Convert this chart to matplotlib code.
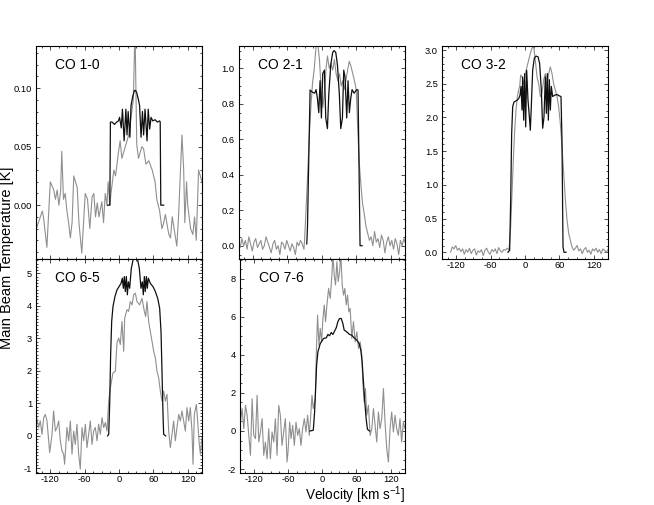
import matplotlib
matplotlib.use("Agg")
import matplotlib.pyplot as plt
from matplotlib.ticker import FixedLocator, MultipleLocator, FormatStrFormatter

plt.rcParams['font.family'] = ['Liberation Sans', 'DejaVu Sans']
plt.rcParams['axes.unicode_minus'] = False
plt.rcParams['mathtext.default'] = 'regular'

# ---------------- data ----------------
labels = ["CO 1-0", "CO 2-1", "CO 3-2", "CO 6-5", "CO 7-6"]
xticks = [-120, -60, 0, 60, 120]

# CO 1-0
v1g = [-145,-134,-132,-126,-120,-114,-111,-108,-105,-102,
       -100,-97,-94,-91,-88,-85,-82,-79,-76,-73,
       -70,-65,-59,-55,-51,-47,-44,-41,-38,-35,
       -33,-30,-27,-24,-21,-19,-16,-14,-9,-6,
       -1,2,5,11,17,21,25,28,31,34,
       40,43,47,52,58,63,66,71,75,78,
       81,87,90,93,101,104,110,113,115,118,
       120,125,129,132,135,139,142,145]
T1g = [-0.021,-0.005,-0.010,-0.036,0.020,0.013,0.005,0.013,0.000,0.012,
       0.046,0.005,0.010,-0.005,-0.015,-0.028,-0.015,0.025,0.020,0.015,
       -0.015,-0.041,0.010,0.005,-0.020,0.007,0.010,-0.010,0.002,-0.010,
       -0.005,0.003,-0.015,0.010,0.000,0.020,0.000,0.010,0.030,0.025,
       0.045,0.055,0.040,0.050,0.060,0.075,0.090,0.150,0.052,0.040,
       0.050,0.048,0.035,0.038,0.030,0.020,0.005,-0.005,-0.020,-0.015,
       -0.008,-0.025,-0.028,-0.010,-0.035,-0.010,0.060,0.030,-0.015,0.020,
       0.000,-0.020,-0.025,-0.010,-0.030,0.030,0.025,0.020]
v1m = [-20,-16,-15,-12,-8,-4,-1,1,4,6,
       9,12,14,16,19,21,24,27,29,31,
       34,36,38.5,41,43,45.5,49,51,53.6,56,
       59,63,67,71,72,73,78]
T1m = [0,0,0.071,0.071,0.069,0.071,0.072,0.075,0.066,0.082,
       0.055,0.082,0.060,0.080,0.058,0.085,0.093,0.098,0.098,0.096,
       0.090,0.085,0.058,0.080,0.060,0.082,0.055,0.082,0.065,0.075,
       0.072,0.073,0.071,0.072,0.071,0.0,0.0]

# CO 2-1
v2g = [-145,-142,-139,-136,-133,-130,-127,-124,-121,-118,
       -115,-112,-109,-106,-103,-100,-97,-94,-91,-88,
       -85,-82,-79,-76,-73,-70,-67,-64,-61,-58,
       -55,-52,-49,-46,-43,-40,-37,-34,-31,
       -30,-28,-25,-22,-19,-16,-13,-10,-7,-4,
       -1,2,5,7.5,10,13,16,19,22,25,
       28,31,34,36.5,39,42,45,48,51,54,
       57,60,62.5,65.5,68.5,71,74,77,80,83,
       86,89,92,95,98,101,104,107,110,113,
       116,119,122,125,128,131,134,137,140,143,145]
T2g = [0.02,-0.01,0.04,0.00,0.03,-0.02,0.05,0.01,-0.03,0.02,
       0.04,-0.01,0.01,0.03,-0.02,0.00,0.05,0.02,-0.01,-0.04,
       0.01,0.03,-0.02,0.00,-0.05,0.02,0.01,-0.02,0.03,0.00,
       -0.03,0.01,-0.01,-0.05,0.02,0.00,0.03,0.01,-0.02,
       0.03,0.16,0.37,0.60,0.78,0.92,1.00,1.12,1.14,1.05,
       0.88,0.78,0.88,1.00,1.07,1.00,1.03,0.99,1.05,0.97,
       0.93,0.97,0.90,0.93,0.88,0.93,0.99,1.04,1.01,0.97,
       0.93,0.88,0.67,0.46,0.33,0.24,0.18,0.11,0.07,0.03,
       0.05,0.00,0.08,0.02,0.04,-0.01,0.06,0.03,-0.04,0.02,
       0.05,0.00,0.03,-0.02,0.04,0.01,-0.05,0.03,0.00,0.04,0.02]
v2m = [-26.1,-24.9,-20.3,-16.2,-12.2,-9.9,-7.5,-5.2,-2.9,-0.6,
       1.7,4.6,7.0,9.9,12.2,15.7,19.1,21.5,24.4,27.3,
       30.7,33.1,36.0,38.3,40.6,43.5,45.8,48.1,50.5,52.8,
       56.3,60.9,63.2,65.5,66.7,70.2]
T2m = [0.01,0.10,0.878,0.865,0.86,0.88,0.83,0.75,0.93,0.72,
       0.97,0.99,0.72,0.66,0.85,1.02,1.09,1.10,1.09,1.02,
       0.85,0.66,0.72,0.99,0.95,0.72,0.93,0.75,0.83,0.88,
       0.86,0.88,0.878,0.30,0.0,0.0]

# CO 3-2
v3g = [-130,-127,-124,-121,-118,-115,-112,-109,-106,-103,
       -100,-97,-94,-91,-88,-85,-82,-79,-76,-73,
       -70,-67,-64,-61,-58,-55,-52,-49,-46,-43,
       -40,-37,-34,-31,
       -28,-25,-22.7,-20.4,-18,-15.7,-13.4,-11,-9.3,-7.6,
       -5.2,-2.3,0.6,3.5,6.4,9.3,12.2,15.1,18,21,
       23.9,26.8,29.7,32.6,35.5,38.4,41.4,44.3,47.2,50,
       53,55.9,58.8,61.7,64.6,67.6,70.5,73.4,76.3,79.2,
       82,85,
       88,91,94,97,100,103,106,109,112,115,
       118,121,124,127,130,133,136,139,142,145]
T3g = [0.00,0.08,0.05,0.10,0.03,0.06,0.01,0.05,-0.03,0.04,
       0.00,0.06,-0.02,0.03,0.05,-0.04,0.02,0.00,0.04,-0.05,
       0.03,0.06,0.00,-0.03,0.04,0.01,0.05,-0.02,0.07,0.02,
       0.00,0.04,0.03,0.06,
       0.03,0.38,0.87,1.37,1.81,2.11,2.31,2.41,2.46,2.63,
       2.60,2.50,2.65,2.75,2.85,2.95,3.03,3.05,2.85,2.60,
       2.50,2.31,2.36,2.56,2.65,2.46,2.65,2.75,2.65,2.50,
       2.41,2.31,2.16,1.91,1.57,1.17,0.78,0.48,0.28,0.18,
       0.08,0.03,
       0.06,0.10,0.02,0.05,-0.02,0.04,0.07,0.00,0.03,-0.03,
       0.05,0.02,0.06,0.00,0.04,-0.02,0.05,0.03,0.00,0.04]
v3m = [-29.7,-26.8,-25,-23.3,-21.5,-19.2,-14.6,-11,-8.7,-7,
       -5.2,-4.1,-2.3,-0.6,1.2,2.9,5.2,7.6,9.3,11,
       13.4,16.3,19.2,22.7,25.6,28.5,30.9,33.2,35.5,37.3,
       39,40.8,42.5,44.3,46,48.3,51.8,55.9,60,62.9,
       64.6,66.4,68.1,71.6]
T3m = [0,0.03,0.78,1.76,2.16,2.23,2.25,2.28,2.33,2.46,
       2.11,2.60,1.96,2.65,1.86,2.70,2.26,2.01,1.81,2.16,
       2.70,2.88,2.91,2.90,2.80,2.41,1.84,2.01,2.60,2.06,
       2.65,1.96,2.56,2.11,2.46,2.31,2.33,2.34,2.32,2.31,
       1.67,0.08,0,0]

# CO 6-5
v4g = [-145,-140.4,-137.5,-134.5,-131.6,-128.7,-125.8,-121.1,-117,-114.2,
       -111.2,-108.3,-105.4,-102.5,-99.6,-96.7,-95,-90.9,-87.9,-85,
       -82.1,-79.2,-76.3,-73.4,-70.5,-67.6,-64.6,-61.7,-58.8,-55.9,
       -53,-50.1,-47.2,-44.3,-41.4,-38.4,-35.5,-32.6,-29.7,-26.8,
       -23.9,-21,-18,-15.1,-10.5,-6.4,-3.5,-0.6,2.3,5.2,
       8.2,9.9,14,16.9,19.8,22.7,25.6,28.5,31.4,36.1,
       40.2,44.3,46.6,48.9,51.8,54.7,57.7,60.6,63.5,66.4,
       69.3,72.2,75.1,78,81,83.9,86.8,89.7,92.6,95.5,
       98.4,101.3,104.3,107.2,110,113,115.9,118.8,121.7,124.6,
       127.5,129.3,131.6,135.1,137.4,139.8,142.1,145]
T4g = [0.66,0.26,0.46,0.05,0.56,0.66,0.46,-0.51,0.05,0.77,
       0.15,0.26,0.46,-0.15,-0.46,-0.56,-0.87,0.26,-0.15,0.46,
       -0.56,0.15,-0.26,0.36,-0.56,-1.02,0.26,-0.15,0.36,-0.36,
       0.05,0.46,-0.26,0.15,0.26,-0.15,0.36,0.05,0.56,0.26,
       0.41,0.15,1.07,1.48,1.94,1.99,2.86,3.01,2.81,3.52,
       2.60,3.62,3.88,3.83,4.13,4.03,4.34,4.39,4.13,4.03,
       4.23,3.83,3.67,4.13,3.52,3.21,2.91,2.60,2.40,1.99,
       1.79,1.38,1.07,1.38,1.07,1.28,0.15,-0.36,0.05,0.46,
       -0.15,0.26,0.66,0.46,0.77,0.46,0.15,0.87,0.46,0.87,
       0.15,-0.87,0.66,0.97,0.46,-0.15,-0.56,-0.05]
v4m = [-20,-18,-16.3,-14.6,-12.8,-10.5,-7,-3.5,0,3.5,
       5.8,7.6,9.3,11,12.8,14.6,16.3,18.6,21.5,24.5,
       28.5,32.6,35.5,38.4,40.8,42.5,44.3,46,47.8,49.5,
       51.3,54.7,59.4,63.5,67.6,71,73.4,75.1,76.9,78,
       81.5]
T4m = [0,0.05,0.97,2.50,3.52,3.98,4.29,4.49,4.59,4.69,
       4.85,4.54,4.90,4.44,4.90,4.34,4.74,4.54,5.15,5.41,
       5.50,5.41,5.15,4.54,4.74,4.34,4.90,4.44,4.90,4.54,
       4.85,4.69,4.59,4.44,4.23,3.93,3.21,1.99,0.66,0.05,
       0]

# CO 7-6
v5g = [-143.3,-140.4,-137.5,-134.5,-131.6,-128.7,-125.8,-122.9,-120,-117,
       -114.2,-111.2,-108.3,-105.4,-102.5,-99.6,-96.7,-93.8,-90.9,-88,
       -85,-82.1,-79.2,-76.3,-73.4,-70.5,-67.6,-64.6,-61.7,-60,
       -57.1,-54.7,-51.8,-48.9,-46,-43.1,-40.2,-37.3,-34.4,-31.4,
       -28.5,-25.6,-22.7,-19.8,-18,-15.7,-12.2,-10.5,-8.2,-5.8,
       -3.5,-1.2,1.2,3.5,5.8,8.2,11.1,14,16.9,18.6,
       21,23.3,25.6,28,30.3,32.6,35,37.3,39.6,42,
       44.3,46.6,48.9,51.8,54.7,57.7,60.6,63.5,66.4,69.3,
       71,73.4,75.7,78,80.9,83.9,86.8,89.7,92.6,95.5,
       98.4,101.3,104.3,107.2,110,113,115.9,118.8,121.7,124.6,
       127.5,130.4,133.3,136.2,139.1,142.1,145]
T5g = [0.47,1.18,0.12,1.35,0.83,-0.23,-1.28,1.70,-0.23,-0.40,
       1.88,-0.58,-0.05,0.65,-1.28,-0.58,-1.46,0.12,-1.46,-0.05,
       -0.58,0.65,-1.28,1.35,0.83,-0.76,-0.05,0.65,-1.63,-1.11,
       0.47,-0.40,0.30,-0.76,0.47,-0.23,0.12,-0.76,0.12,0.65,
       -0.05,0.83,-0.23,1.00,1.88,1.18,1.70,3.99,6.10,4.52,
       5.40,4.69,5.92,6.63,5.75,6.63,7.50,6.98,8.21,9.26,
       8.21,7.68,8.91,7.86,8.38,9.26,7.68,7.15,7.50,6.63,
       7.15,6.27,6.45,4.87,5.75,4.69,5.22,4.34,4.69,3.99,
       2.58,1.53,2.23,0.83,1.35,-0.23,0.12,1.18,0.30,-0.58,
       1.00,0.12,0.65,2.23,0.47,-0.93,-1.63,0.12,1.00,-0.05,
       0.83,0.12,-0.23,0.65,-0.58,0.47,0.12]
v5m = [-21.5,-15.7,-13.4,-11.6,-9.9,-7.6,-3.5,2.3,7,9.9,
       12.8,15.7,18.6,21.5,24.5,27.4,30.3,33.2,36.1,38.4,
       41.4,44.3,47.8,51.8,55.9,60.6,64.6,67.6,69.9,72.2,
       74.5,76.9,79.2,82.7]
T5m = [0,0.04,1.00,2.23,3.46,4.17,4.60,4.87,4.90,5.08,
       5.01,5.18,5.08,5.25,5.43,5.75,5.92,5.92,5.66,5.31,
       5.25,5.18,5.08,5.04,4.90,4.78,4.60,4.25,3.64,2.58,
       1.53,0.65,0.09,0]

yticks1 = [0.00, 0.05, 0.10]
yticks2 = [0.0, 0.2, 0.4, 0.6, 0.8, 1.0]
yticks3 = [0.0, 0.5, 1.0, 1.5, 2.0, 2.5, 3.0]
yticks4 = [-1, 0, 1, 2, 3, 4, 5]
yticks5 = [-2, 0, 2, 4, 6, 8]

# ---------------- figure ----------------
W, H = 654, 505
fig = plt.figure(figsize=(W / 100, H / 100), dpi=100)

def frac(x0, y0, x1, y1):
    return [x0 / W, 1 - y1 / H, (x1 - x0) / W, (y1 - y0) / H]

panels = [
    dict(rect=frac(36, 46, 202, 259), vg=v1g, tg=T1g, vm=v1m, tm=T1m,
         ylim=(-0.046, 0.136), yt=yticks1, ymin=0.01, fmt='%.2f', xl=False, lab=labels[0]),
    dict(rect=frac(238.5, 46, 405, 259), vg=v2g, tg=T2g, vm=v2m, tm=T2m,
         ylim=(-0.075, 1.126), yt=yticks2, ymin=0.05, fmt='%.1f', xl=False, lab=labels[1]),
    dict(rect=frac(442, 46, 608, 259), vg=v3g, tg=T3g, vm=v3m, tm=T3m,
         ylim=(-0.10, 3.06), yt=yticks3, ymin=0.1, fmt='%.1f', xl=True, lab=labels[2]),
    dict(rect=frac(36, 259, 202, 473), vg=v4g, tg=T4g, vm=v4m, tm=T4m,
         ylim=(-1.14, 5.44), yt=yticks4, ymin=0.1, fmt='%d', xl=True, lab=labels[3]),
    dict(rect=frac(239.5, 259, 405, 473), vg=v5g, tg=T5g, vm=v5m, tm=T5m,
         ylim=(-2.21, 9.05), yt=yticks5, ymin=0.5, fmt='%d', xl=True, lab=labels[4]),
]

for p in panels:
    ax = fig.add_axes(p['rect'])
    ax.plot(p['vg'], p['tg'], color='#8f8f8f', lw=0.8)
    ax.plot(p['vm'], p['tm'], color='#101010', lw=0.9)
    ax.set_xlim(-145, 145)
    ax.set_ylim(*p['ylim'])
    ax.xaxis.set_major_locator(FixedLocator(xticks))
    ax.xaxis.set_minor_locator(MultipleLocator(15))
    ax.yaxis.set_major_locator(FixedLocator(p['yt']))
    ax.yaxis.set_minor_locator(MultipleLocator(p['ymin']))
    ax.yaxis.set_major_formatter(FormatStrFormatter(p['fmt']))
    ax.xaxis.set_major_formatter(FormatStrFormatter('%d'))
    ax.tick_params(which='both', direction='in', top=True, right=True,
                   width=0.5, labelsize=6.7, pad=2.8)
    ax.tick_params(axis='x', which='both', pad=1.3)
    ax.tick_params(which='major', length=3.2)
    ax.tick_params(which='minor', length=1.6)
    ax.tick_params(axis='x', labelbottom=p['xl'])
    for s in ax.spines.values():
        s.set_linewidth(0.8)
    ax.text(0.115, 0.91, p['lab'], transform=ax.transAxes, fontsize=10,
            ha='left', va='center')

fig.text(7.5 / W, 1 - 258 / H, 'Main Beam Temperature [K]', rotation=90,
         ha='center', va='center', fontsize=10.5)
fig.text(355 / W, 1 - 500 / H, 'Velocity [km s$^{-1}$]',
         ha='center', va='baseline', fontsize=9.8)

fig.savefig('out.png', dpi=100)
